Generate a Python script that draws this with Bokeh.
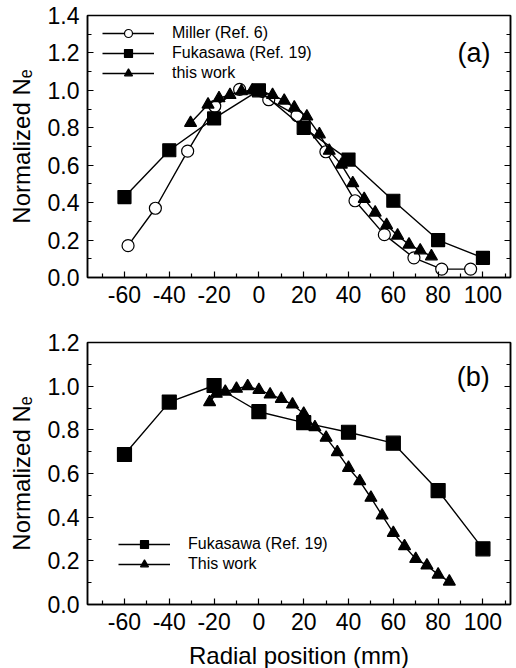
import numpy as np
from bokeh.plotting import figure
from bokeh.models import (Range1d, FixedTicker, LinearAxis, PrintfTickFormatter,
                          Legend, LegendItem, Label, CustomLabelingPolicy)
from bokeh.layouts import column
from bokeh.embed import file_html
from bokeh.resources import INLINE

FONT = "Liberation Sans"

# ---------------- data ----------------
x_ticks = [-60, -40, -20, 0, 20, 40, 60, 80, 100]
x_minor = [-70, -50, -30, -10, 10, 30, 50, 70, 90, 110]
ya_ticks = [0.0, 0.2, 0.4, 0.6, 0.8, 1.0, 1.2, 1.4]
ya_minor = [0.1, 0.3, 0.5, 0.7, 0.9, 1.1, 1.3]
yb_ticks = [0.0, 0.2, 0.4, 0.6, 0.8, 1.0, 1.2]
yb_minor = [0.1, 0.3, 0.5, 0.7, 0.9, 1.1]

# panel (a)
miller_x = [-58.4, -46.2, -31.8, -19.7, -8.6, 4.4, 17.0, 29.9, 42.9, 56.0, 69.2, 81.6, 94.5]
miller_y = [0.17, 0.37, 0.675, 0.915, 1.005, 0.95, 0.865, 0.672, 0.41, 0.229, 0.105, 0.045, 0.045]

fuka_a_x = [-60, -40, -20, 0, 20, 40, 60, 80, 100]
fuka_a_y = [0.43, 0.68, 0.85, 1.0, 0.80, 0.63, 0.41, 0.20, 0.105]

work_a_x = [-30.5, -22.7, -17.8, -12.9, -7.8, -3.0, 1.0, 6.1, 11.3, 15.8, 21.4, 27.0,
            31.4, 36.8, 41.9, 47.0, 51.9, 57.0, 61.9, 67.0, 72.0, 77.0]
work_a_y = [0.826, 0.924, 0.958, 0.975, 0.995, 1.0, 0.995, 0.975, 0.945, 0.908, 0.86, 0.765,
            0.677, 0.603, 0.504, 0.42, 0.347, 0.28, 0.224, 0.176, 0.145, 0.113]

# panel (b)
fuka_b_x = [-60, -40, -20, 0, 20, 40, 60, 80, 100]
fuka_b_y = [0.687, 0.927, 1.003, 0.883, 0.833, 0.789, 0.739, 0.522, 0.255]

work_b_x = [-22, -19, -15, -10, -5, 0, 5, 10, 15, 20, 25, 30, 35, 40, 45, 50, 55, 60,
            65, 70, 75, 80, 85]
work_b_y = [0.927, 0.965, 0.975, 0.988, 1.0, 0.983, 0.962, 0.942, 0.916, 0.874, 0.812, 0.764,
            0.698, 0.626, 0.565, 0.489, 0.408, 0.328, 0.267, 0.209, 0.179, 0.137, 0.105]


def style_axis(ax, ticks, minor, fmt, show_labels=True):
    ax.ticker = FixedTicker(ticks=ticks, minor_ticks=minor)
    ax.formatter = PrintfTickFormatter(format=fmt)
    ax.major_tick_in = 6
    ax.major_tick_out = 0
    ax.minor_tick_in = 4
    ax.minor_tick_out = 0
    ax.axis_line_color = "black"
    ax.axis_line_width = 1.5
    ax.major_tick_line_color = "black"
    ax.minor_tick_line_color = "black"
    ax.major_tick_line_width = 1.2
    ax.minor_tick_line_width = 1.2
    ax.major_label_text_font = FONT
    ax.major_label_text_color = "black"
    ax.axis_label_text_color = "black"
    if show_labels:
        ax.major_label_text_font_size = "23px"
        ax.major_label_standoff = 8
    else:
        ax.major_label_text_font_size = "1px"
        ax.major_label_standoff = 0
        ax.major_label_policy = CustomLabelingPolicy(code="return new Set()")


def make_fig(ymax, yticks, yminor, top, bottom, xlabel):
    p = figure(frame_width=423, frame_height=262,
               min_border_left=87, min_border_right=6,
               min_border_top=top, min_border_bottom=bottom,
               x_range=Range1d(-76.5, 112.3), y_range=Range1d(0, ymax),
               output_backend="svg", toolbar_location=None)
    p.xgrid.visible = False
    p.ygrid.visible = False
    p.outline_line_color = "black"
    p.outline_line_width = 1.5
    p.background_fill_color = "white"
    p.border_fill_color = "white"
    style_axis(p.xaxis[0], x_ticks, x_minor, "%d")
    style_axis(p.yaxis[0], yticks, yminor, "%.1f")
    right = LinearAxis()
    style_axis(right, yticks, yminor, "%.1f", show_labels=False)
    p.add_layout(right, "right")
    p.yaxis[0].axis_label = "Normalized Nₑ"
    p.yaxis[0].axis_label_text_font = FONT
    p.yaxis[0].axis_label_text_font_size = "24px"
    p.yaxis[0].axis_label_text_font_style = "normal"
    p.yaxis[0].axis_label_text_color = "black"
    p.yaxis[0].axis_label_standoff = 10
    if xlabel:
        p.xaxis[0].axis_label = xlabel
        p.xaxis[0].axis_label_text_font = FONT
        p.xaxis[0].axis_label_text_font_size = "24px"
        p.xaxis[0].axis_label_text_font_style = "normal"
        p.xaxis[0].axis_label_text_color = "black"
        p.xaxis[0].axis_label_standoff = 9
    return p


def series(p, x, y, marker, size, fill):
    l = p.line(x, y, line_color="black", line_width=1.4)
    s = p.scatter(x, y, marker=marker, size=size, fill_color=fill,
                  line_color="black", line_width=1.2)
    return [l, s]


def add_legend(p, items, x, y):
    leg = Legend(items=items, location=(x, y), orientation="vertical")
    leg.border_line_color = None
    leg.background_fill_alpha = 0
    leg.glyph_width = 52
    leg.glyph_height = 20
    leg.label_height = 20
    leg.label_standoff = 18
    leg.spacing = 0
    leg.padding = 0
    leg.margin = 0
    leg.label_text_font = FONT
    leg.label_text_font_size = "16px"
    leg.label_text_color = "black"
    p.add_layout(leg)


# ---------------- panel (a) ----------------
pa = make_fig(1.4, ya_ticks, ya_minor, 15, 53, None)
r_m = series(pa, miller_x, miller_y, "circle", 12, "white")
r_f = series(pa, fuka_a_x, fuka_a_y, "square", 13, "black")
r_w = series(pa, work_a_x, work_a_y, "triangle", 12, "black")
add_legend(pa, [LegendItem(label="Miller (Ref. 6)", renderers=r_m),
                LegendItem(label="Fukasawa (Ref. 19)", renderers=r_f),
                LegendItem(label="this work", renderers=r_w)], 15, 194)
pa.add_layout(Label(x=96, y=1.2, text="(a)", text_font=FONT, text_font_size="27px",
                    text_align="center", text_baseline="middle", text_color="black"))

# ---------------- panel (b) ----------------
pb = make_fig(1.2, yb_ticks, yb_minor, 12, 64, "Radial position (mm)")
r_fb = series(pb, fuka_b_x, fuka_b_y, "square", 14, "black")
r_wb = series(pb, work_b_x, work_b_y, "triangle", 12, "black")
add_legend(pb, [LegendItem(label="Fukasawa (Ref. 19)", renderers=r_fb),
                LegendItem(label="This work", renderers=r_wb)], 31, 30)
pb.add_layout(Label(x=95.7, y=1.04, text="(b)", text_font=FONT, text_font_size="27px",
                    text_align="center", text_baseline="middle", text_color="black"))

layout = column(pa, pb, spacing=0)
open("out.html", "w").write(file_html(layout, INLINE))
